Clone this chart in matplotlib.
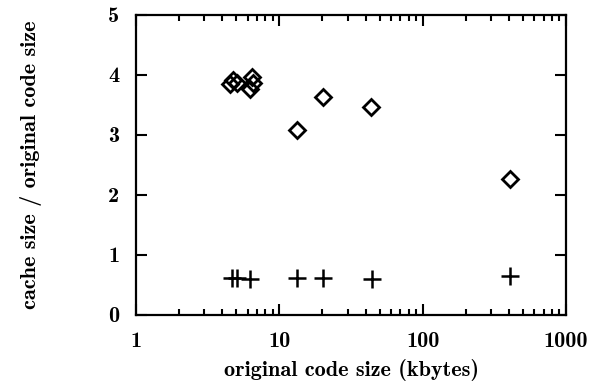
import matplotlib.pyplot as plt
from matplotlib.ticker import LogLocator, NullFormatter, FixedLocator

plt.rcParams['font.family'] = ['cmb10', 'DejaVu Serif']
plt.rcParams['axes.unicode_minus'] = False

# cache size / original code size (diamonds)
x_cache = [4.55, 4.75, 5.1, 6.2, 6.45, 6.5, 13.2, 20.2, 43.5, 405]
y_cache = [3.85, 3.92, 3.86, 3.76, 3.97, 3.86, 3.08, 3.64, 3.46, 2.27]

# second series (pluses)
x_plus = [4.65, 5.05, 6.25, 13.2, 20.2, 44, 407]
y_plus = [0.62, 0.62, 0.60, 0.61, 0.62, 0.60, 0.64]

fig = plt.figure(figsize=(6, 3.84), dpi=100)
ax = fig.add_axes([0.2267, 0.18, 0.7166, 0.781])

ax.plot(x_cache, y_cache, 'D', ms=8.5, mfc='none', mec='black', mew=2)
ax.plot(x_plus, y_plus, '+', ms=13, color='black', mew=1.8)

ax.set_xscale('log')
ax.set_xlim(1, 1000)
ax.set_ylim(0, 5)
ax.xaxis.set_major_locator(FixedLocator([1, 10, 100, 1000]))
ax.set_xticklabels(['1', '10', '100', '1000'])
ax.xaxis.set_minor_locator(LogLocator(base=10, subs=range(2, 10)))
ax.xaxis.set_minor_formatter(NullFormatter())
ax.set_yticks([0, 1, 2, 3, 4, 5])

ax.tick_params(which='both', direction='in', top=True, right=True,
               labelsize=16, width=1.5)
ax.tick_params(axis='y', pad=12)
ax.tick_params(axis='x', pad=12)
ax.tick_params(which='major', length=8)
ax.tick_params(which='minor', length=4)
for s in ax.spines.values():
    s.set_linewidth(1.6)

ax.set_xlabel('original code size (kbytes)', fontsize=16, labelpad=6)
ax.set_ylabel('cache size / original code size', fontsize=16, labelpad=48)

fig.savefig('out.png', dpi=100)
